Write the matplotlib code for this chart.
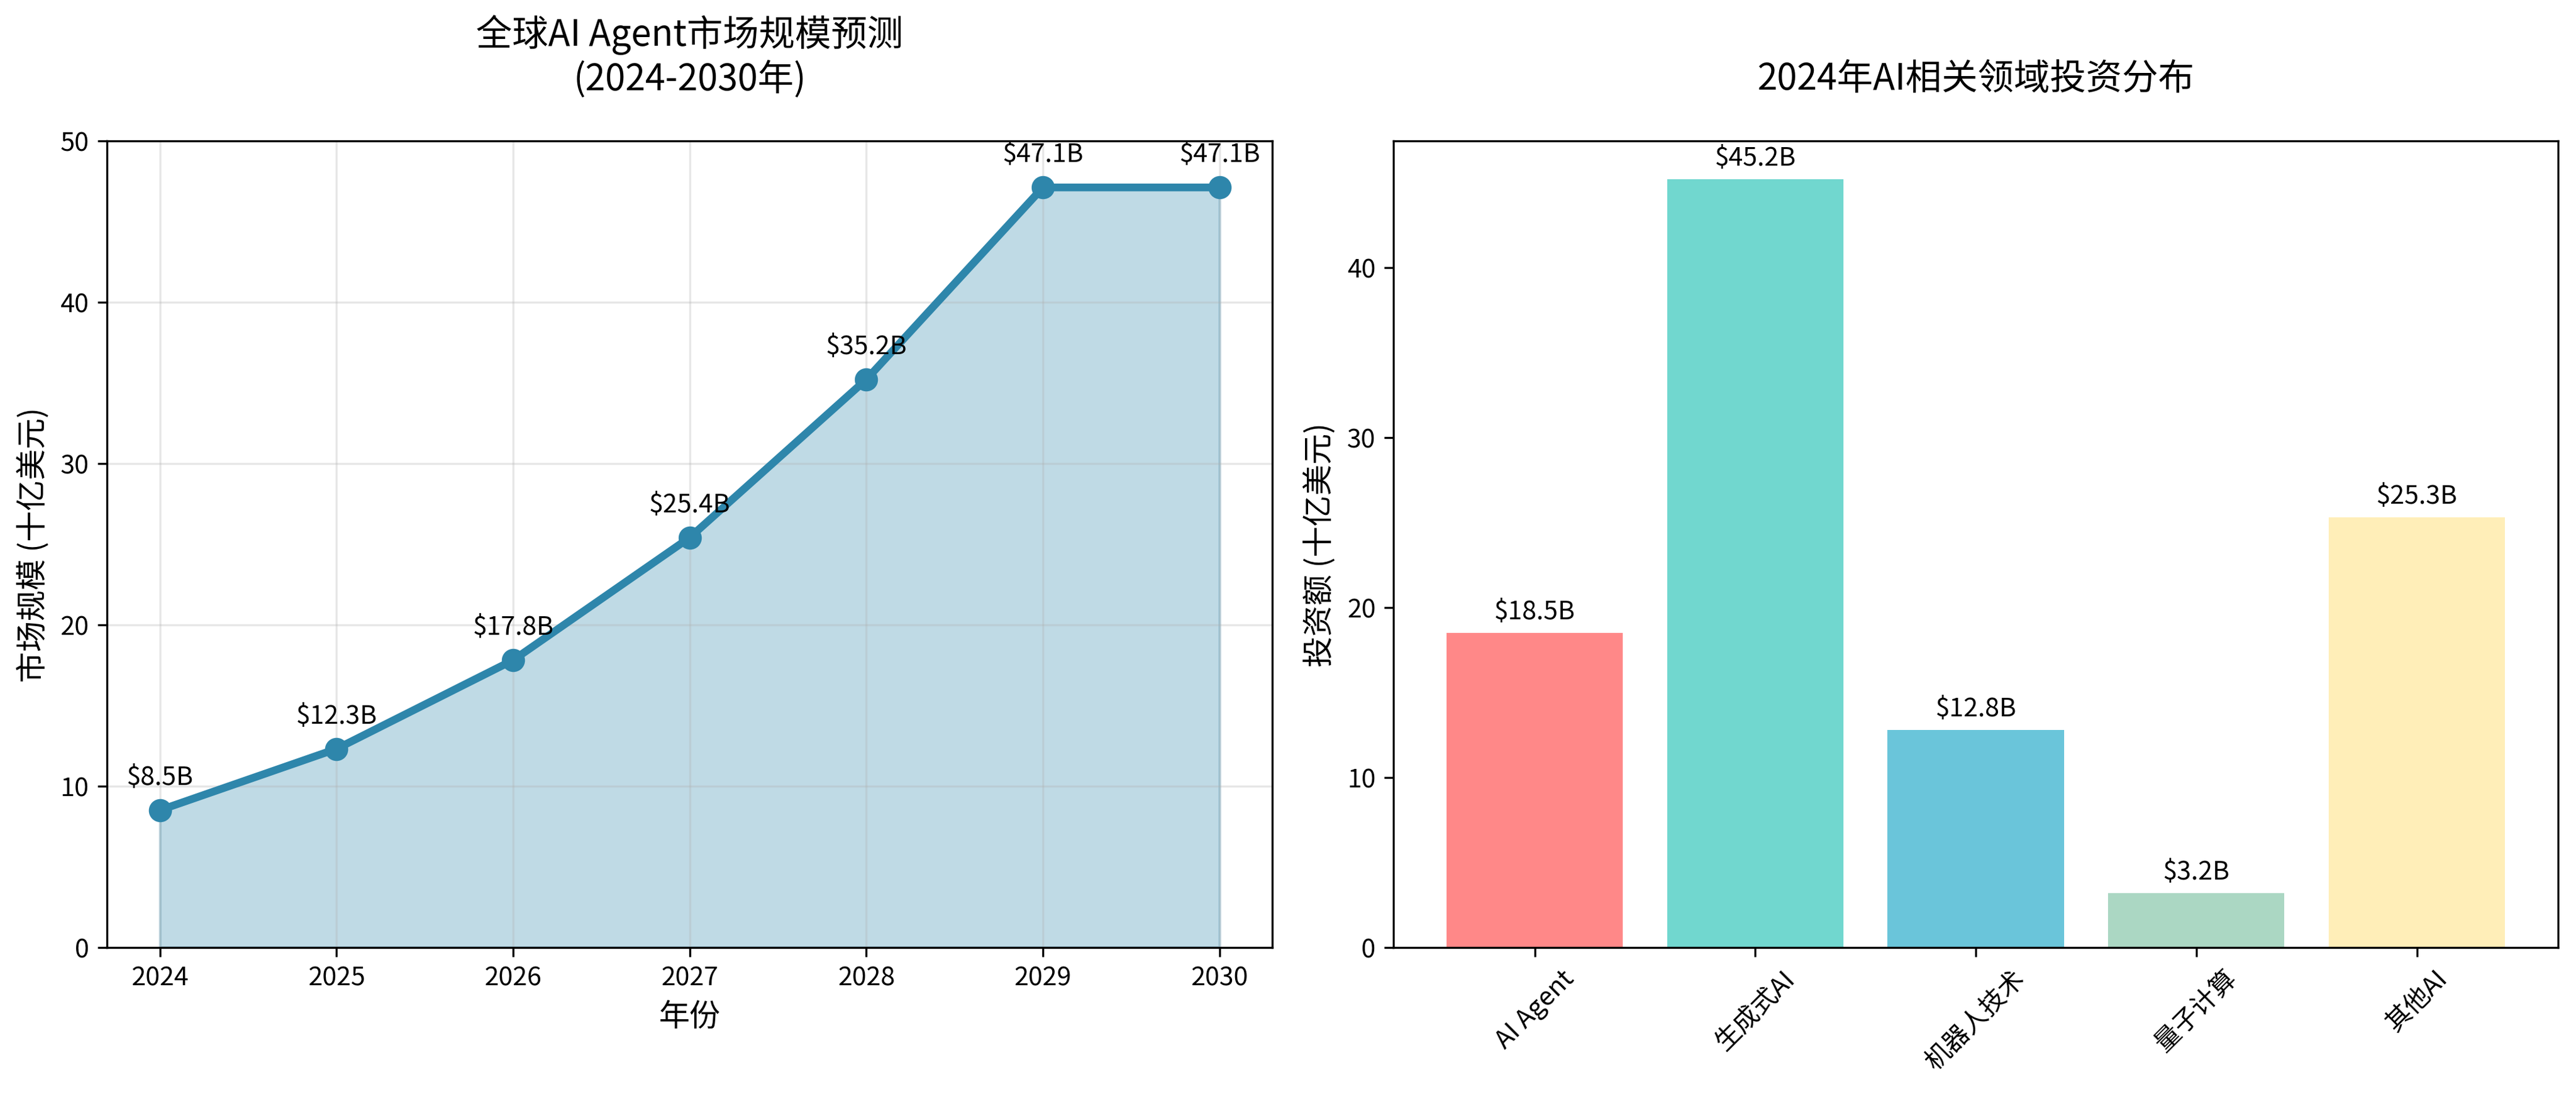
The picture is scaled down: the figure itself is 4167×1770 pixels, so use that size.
import matplotlib
matplotlib.use("Agg")
import matplotlib.pyplot as plt

plt.rcParams['font.family'] = ['Noto Sans CJK SC', 'DejaVu Sans']
plt.rcParams['axes.unicode_minus'] = False

years = [2024, 2025, 2026, 2027, 2028, 2029, 2030]
market_size = [8.5, 12.3, 17.8, 25.4, 35.2, 47.1, 47.1]

fields = ['AI Agent', '生成式AI', '机器人技术', '量子计算', '其他AI']
investment = [18.5, 45.2, 12.8, 3.2, 25.3]
bar_colors = ['#FF6B6B', '#4ECDC4', '#45B7D1', '#96CEB4', '#FFEAA7']

fig, (ax1, ax2) = plt.subplots(1, 2, figsize=(13.89, 5.903))
ax1.set_position([0.0415, 0.134, 0.4525, 0.737])
ax2.set_position([0.541, 0.134, 0.452, 0.737])

ax1.plot(years, market_size, marker='o', color='#2E86AB', linewidth=3, markersize=8)
ax1.fill_between(years, market_size, alpha=0.3, color='#2E86AB')
for x, y in zip(years, market_size):
    ax1.annotate(f'${y}B', (x, y), textcoords='offset points', xytext=(0, 10),
                 ha='center', fontsize=10)
ax1.set_title('全球AI Agent市场规模预测\n(2024-2030年)', fontsize=14, pad=20)
ax1.set_xlabel('年份', fontsize=12)
ax1.set_ylabel('市场规模 (十亿美元)', fontsize=12)
ax1.set_ylim(0, 50)
ax1.grid(True, alpha=0.3)

bars = ax2.bar(fields, investment, color=bar_colors, alpha=0.8)
for b, v in zip(bars, investment):
    ax2.text(b.get_x() + b.get_width() / 2, b.get_height() + 0.5, f'${v}B',
             ha='center', va='bottom', fontsize=10)
ax2.set_title('2024年AI相关领域投资分布', fontsize=14, pad=20)
ax2.set_ylabel('投资额 (十亿美元)', fontsize=12)
plt.setp(ax2.get_xticklabels(), rotation=45)

fig.savefig('out.png', dpi=300)
